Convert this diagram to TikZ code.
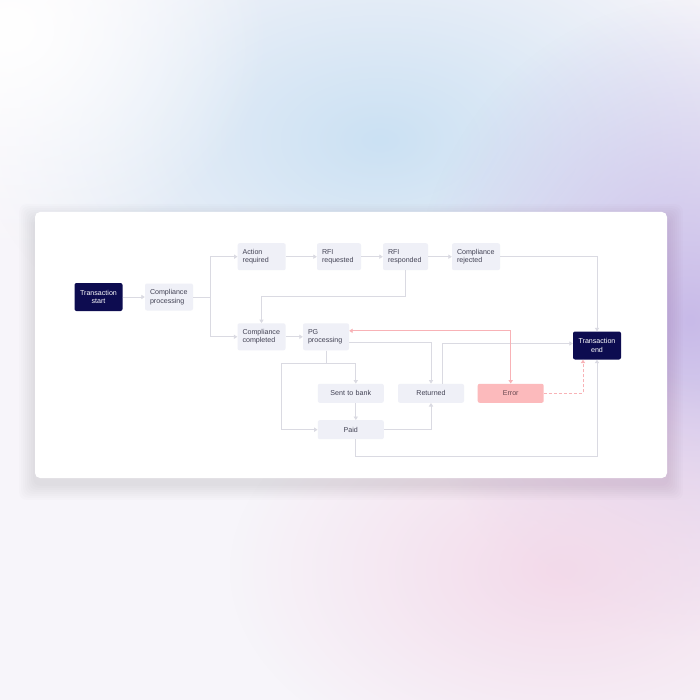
\documentclass[tikz,border=0pt]{standalone}
\usepackage{fontspec}
\setmainfont{Liberation Sans}
\usetikzlibrary{arrows.meta}
\usetikzlibrary{calc}
\usetikzlibrary{fadings}
\definecolor{navy}{RGB}{13,12,80}
\definecolor{boxfill}{RGB}{239,240,247}
\definecolor{txt}{RGB}{66,66,84}
\definecolor{wire}{RGB}{218,218,226}
\definecolor{errfill}{RGB}{252,186,188}
\definecolor{errwire}{RGB}{248,178,182}
\definecolor{errtxt}{RGB}{104,72,80}
\definecolor{bgbase}{RGB}{247,245,250}
\definecolor{bgblue}{RGB}{203,225,243}
\definecolor{bgpurple}{RGB}{200,186,232}
\definecolor{bgpink}{RGB}{243,218,234}
\tikzfading[name=glow, inner color=transparent!0, outer color=transparent!100]
\tikzset{
  box/.style= {fill=boxfill, rounded corners=2pt, text=txt, inner xsep=5pt, inner ysep=0pt,
    minimum height=27pt, text width=#1, align=left, font=\fontsize{7.1}{8.7}\selectfont},
  box/.default=38pt,
  endbox/.style= {box, fill=navy, text=white, align=center, minimum height=28pt},
  wide/.style= {box=56pt, align=center, minimum height=19pt},
  errbox/.style= {fill=errfill, text=errtxt},
  link/.style= {draw=wire, line width=1pt, -{Triangle[length=3.5pt, width=4.2pt]}},
  errlink/.style= {draw=errwire, line width=1pt, -{Triangle[length=3.5pt, width=4.2pt]}},
}

\begin{document}
\begin{tikzpicture}[x=1pt, y=-1pt]
  \useasboundingbox (0,0) rectangle (700,700);
  % background
  \fill [bgbase] (0,0) rectangle (700,700);
  \fill [bgblue, path fading=glow] (380,140) ellipse (400 and 250);
  \fill [bgpurple, path fading=glow] (690,320) ellipse (280 and 320);
  \fill [bgpink, path fading=glow] (560,570) ellipse (330 and 210);
  \fill [white, path fading=glow] (10,30) ellipse (260 and 230);
  % card shadow
  \foreach \s in {2,4,...,16}
    \fill [black!60!violet, opacity=0.012, rounded corners=8pt]
      (35-\s,212-\s+8) rectangle (667+\s,478+\s+6);
  \fill [white, rounded corners=5pt] (35,212) rectangle (667,478);

  \node [endbox] (tstart) at (98.5,297) {Transaction\\start};
  \node [box] (cproc) at (169,297) {Compliance\\processing};
  \node [box] (action) at (261.7,256.7) {Action\\required};
  \node [box=34pt] (rfireq) at (339,256.7) {RFI\\requested};
  \node [box=35pt] (rfiresp) at (405.5,256.7) {RFI\\responded};
  \node [box] (crej) at (476,256.7) {Compliance\\rejected};
  \node [box] (ccomp) at (261.5,336.8) {Compliance\\completed};
  \node [box=36pt] (pg) at (326,336.8) {PG\\processing};
  \node [endbox] (tend) at (597,345.5) {Transaction\\end};
  \node [wide] (bank) at (350.8,393.3) {Sent to bank};
  \node [wide] (returned) at (431,393.3) {Returned};
  \node [wide, errbox] (error) at (510.7,393.3) {Error};
  \node [wide] (paid) at (350.8,429.7) {Paid};

  \draw [link] (tstart) -- (cproc);
  \draw [link] (cproc.east) -- ++(17,0) |- (action.west);
  \draw [link] (cproc.east) -- ++(17,0) |- (ccomp.west);
  \draw [link] (action) -- (rfireq);
  \draw [link] (rfireq) -- (rfiresp);
  \draw [link] (rfiresp) -- (crej);
  \draw [link] (rfiresp.south) -- ++(0,26) -| (ccomp.north);
  \draw [link] (crej.east) -| (tend.north);
  \draw [link] (ccomp) -- (pg);
  \draw [link] ($(pg.east)+(0,6)$) -| (returned.north);
  \draw [link] ($(returned.north)+(11.5,0)$) |- ($(tend.west)+(0,-2)$);
  \draw [errlink, {Triangle[length=3.5pt, width=4.2pt]}-{Triangle[length=3.5pt, width=4.2pt]}]
    ($(pg.east)+(0,-6)$) -| (error.north);
  \draw [link] (pg.south) -- ++(0,13) -| ($(bank.north)+(5,0)$);
  \draw [link] (pg.south) -- ++(0,13) -- ++(-45,0) |- (paid.west);
  \draw [link] ($(bank.south)+(5,0)$) -- ($(paid.north)+(5,0)$);
  \draw [link] (paid.east) -| (returned.south);
  \draw [link] ($(paid.south)+(5,0)$) -- ++(0,17) -| (tend.south);
  \draw [errlink, dash pattern=on 3pt off 2pt] (error.east) -| ($(tend.south)+(-14,0)$);
\end{tikzpicture}
\end{document}
